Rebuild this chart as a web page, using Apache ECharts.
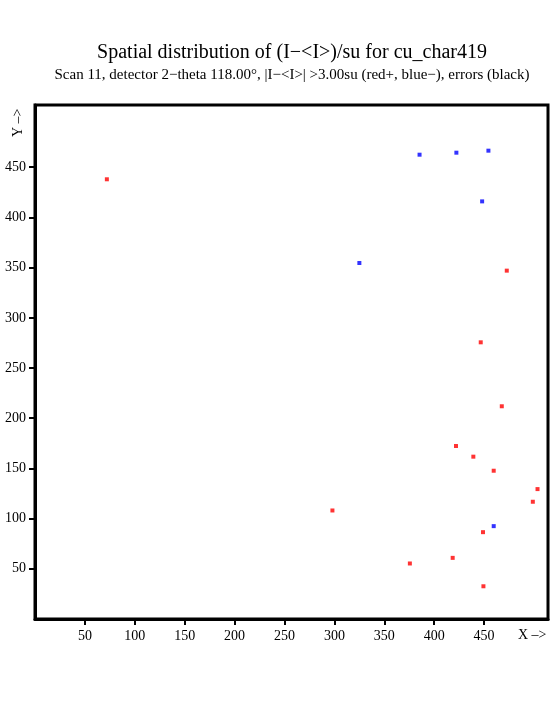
<!DOCTYPE html>
<html><head><meta charset="utf-8">
<script src="https://cdn.jsdelivr.net/npm/echarts@6/dist/echarts.min.js"></script>
<style>html,body{margin:0;padding:0;background:#fff}#c{width:555px;height:725px}</style>
</head><body><div id="c"></div>
<script>
const xTicks = [50,100,150,200,250,300,350,400,450];
const yTicks = [50,100,150,200,250,300,350,400,450];
const redX = [72, 472.7, 446.6, 467.7, 421.8, 439.2, 459.6, 503.5, 498.8, 448.9, 418.5, 375.6, 449.3, 298];
const redY = [438, 347, 275.6, 211.9, 172.3, 161.7, 147.7, 129.4, 116.8, 86.5, 60.9, 55.3, 32.6, 108.1];
const blueX = [385.3, 422.2, 454.3, 448, 325, 459.6];
const blueY = [462.5, 464.5, 466.5, 416, 354.6, 92.5];

const red = redX.map((x,i)=>[x, redY[i]]);
const blue = blueX.map((x,i)=>[x, blueY[i]]);
const font = '"Liberation Serif", "DejaVu Serif", serif';
const chart = echarts.init(document.getElementById('c'));
chart.setOption({
  animation:false,
  backgroundColor:'#fff',
  title:{
    text:'Spatial distribution of (I\u2212<I>)/su for cu_char419',
    subtext:'Scan 11, detector 2\u2212theta 118.00\u00b0, |I\u2212<I>| >3.00su (red+, blue\u2212), errors (black)',
    left:287, textAlign:'center', top:38, itemGap:5,
    textStyle:{fontFamily:font, fontSize:20, fontWeight:'normal', color:'#000'},
    subtextStyle:{fontFamily:font, fontSize:15, color:'#000'}
  },
  grid:{left:35, right:7, top:105, bottom:106, show:true, borderColor:'#000', borderWidth:3},
  xAxis:{type:'value', min:0, max:514, interval:50,
    splitLine:{show:false},
    axisLine:{show:true, onZero:false, lineStyle:{color:'#000', width:3}},
    axisTick:{show:true, inside:false, length:6, lineStyle:{color:'#000', width:2}, customValues:xTicks},
    axisLabel:{color:'#000', fontFamily:font, fontSize:14, margin:10, customValues:xTicks}
  },
  yAxis:{type:'value', min:0, max:512, interval:50,
    splitLine:{show:false},
    axisLine:{show:true, onZero:false, lineStyle:{color:'#000', width:3}},
    axisTick:{show:true, inside:false, length:6, lineStyle:{color:'#000', width:2}, customValues:yTicks},
    axisLabel:{color:'#000', fontFamily:font, fontSize:14, margin:9, customValues:yTicks}
  },
  graphic:[
    {type:'text', left:518, top:628, style:{text:'X \u2013>', font:'14px '+font, fill:'#000'}},
    {type:'text', x:11, y:137, rotation:Math.PI/2, style:{text:'Y \u2013>', font:'14px '+font, fill:'#000'}}
  ],
  series:[
    {type:'scatter', data:red, symbol:'rect', symbolSize:4, itemStyle:{color:'#ff0000'}},
    {type:'scatter', data:blue, symbol:'rect', symbolSize:4, itemStyle:{color:'#0000ff'}}
  ]
});
</script></body></html>
